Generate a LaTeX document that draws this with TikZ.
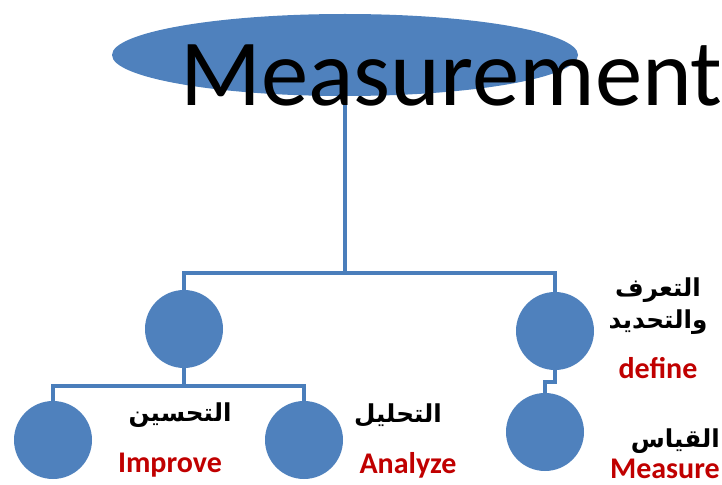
\documentclass[tikz,border=0pt]{standalone}
\usepackage{fontspec}
\setmainfont{Carlito}
\newfontfamily\arabicfont[Script=Arabic]{DejaVu Sans}
\TeXXeTstate=1
\usetikzlibrary{shapes.geometric}

\definecolor{ovalblue}{RGB}{79,129,189}
\definecolor{linkblue}{RGB}{74,126,187}
\definecolor{labelred}{RGB}{192,0,0}

\tikzset{
  stage/.style={circle, fill=ovalblue, draw=none, minimum size=58.5pt, inner sep=0pt},
  link/.style={draw=linkblue, line width=2.8pt},
  engl/.style={font=\bfseries\fontsize{22.5}{27}\selectfont, text=labelred, inner sep=0pt},
  arab/.style={font=\arabicfont\bfseries\fontsize{18.5}{24}\selectfont, inner sep=0pt, align=center},
}

\begin{document}
\begin{tikzpicture}[x=0.75pt,y=0.75pt,yscale=-1,xscale=1]
\useasboundingbox (0,0) rectangle (722,485);

%Shape: Ellipse [id:root]
\node [ellipse, fill=ovalblue, draw=none, minimum width=349.5pt, minimum height=61.5pt, inner sep=0pt] (root) at (345,55) {};

%Shape: Circles
\node [stage] (ctrl) at (184,329) {};
\node [stage] (defn) at (555,331) {};
\node [stage] (impr) at (53,440) {};
\node [stage] (anlz) at (304,440) {};
\node [stage] (meas) at (545,432) {};

%Bus levels
\coordinate (bustop) at (0,273);
\coordinate (busleft) at (0,386);
\coordinate (busright) at (0,382);

%Straight Lines
\draw [link] (root.south) -- (root.south |- bustop) -| (ctrl.north);
\draw [link] (root.south |- bustop) -| (defn.north);
\draw [link] (ctrl.south) -- (ctrl.south |- busleft) -| (impr.north);
\draw [link] (ctrl.south |- busleft) -| (anlz.north);
\draw [link] (defn.south) -- (defn.south |- busright) -| (meas.north);

%Title
\node [anchor=base west, inner sep=0pt, font=\fontsize{71}{80}\selectfont] (title) at (180,106) {Measurement};

%Labels
\node [arab] (lblimpr) at (180,415) {\beginR التحسين\endR};
\node [engl] (engimpr) at (170,465) {Improve};
\node [arab] (lblanlz) at (398,415) {\beginR التحليل\endR};
\node [engl] (enganlz) at (408,465) {Analyze};
\node [arab] (lbldefn) at (658,306) {\beginR التعرف\endR\\\beginR والتحديد\endR};
\node [engl] (engdefn) at (658,368) {define};
\node [arab, anchor=east] (lblmeas) at (720,441) {\beginR القياس\endR};
\node [engl, anchor=east] (engmeas) at (720,469) {Measure};

\end{tikzpicture}
\end{document}
